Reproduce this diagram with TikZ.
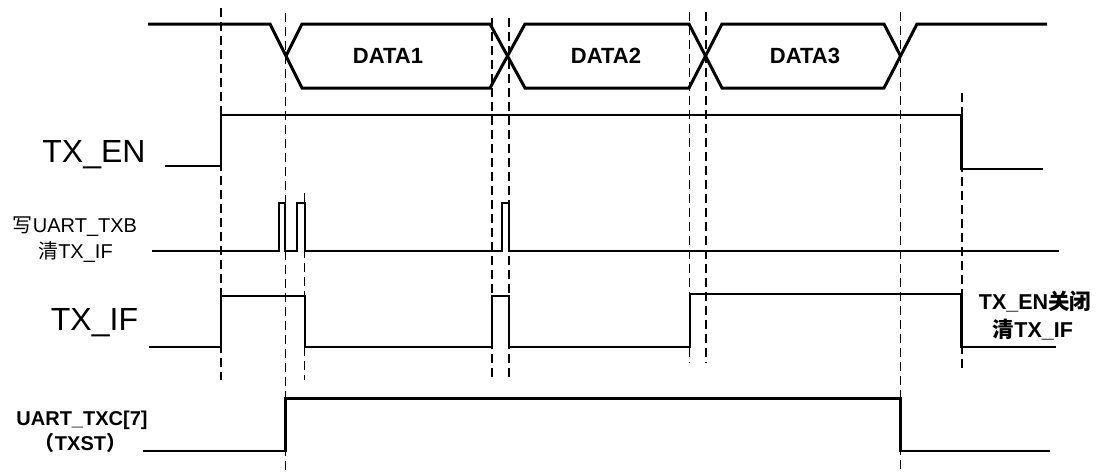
\documentclass[tikz,border=0pt]{standalone}
\usepackage{fontspec}
\setmainfont{Liberation Sans}
\newfontfamily\cjk{Noto Sans CJK SC}
\begin{document}
\begin{tikzpicture}[x=1pt,y=-1pt,
  bus/.style={line width=3pt,line join=miter},
  sig/.style={line width=2.2pt,line join=miter},
  guide/.style={line width=1.4pt,dash pattern=on 9pt off 5pt},
  lbl/.style={inner sep=0pt,anchor=base},
  big/.style={lbl,font=\fontsize{32}{36}\selectfont},
  small/.style={lbl,font=\fontsize{20}{24}\selectfont},
  bsmall/.style={lbl,font=\fontsize{21.5}{24}\selectfont\bfseries},
  bdata/.style={lbl,font=\fontsize{22}{24}\selectfont\bfseries}]
\useasboundingbox (0,0) rectangle (1097,471);
% guide lines
\draw[guide] (221,8) -- (221,380);
\draw[guide] (285.5,13) -- (285.5,471);
\draw[guide] (304.7,193) -- (304.7,380);
\draw[guide] (492,18) -- (492,380);
\draw[guide] (509,18) -- (509,380);
\draw[guide] (689.5,12) -- (689.5,363);
\draw[guide] (706,12) -- (706,363);
\draw[guide] (900.5,12) -- (900.5,471);
\draw[guide] (962,93) -- (962,372);
% data bus
\draw[bus] (148,24) -- (270,24) -- (302,88) -- (490,88) -- (525,24) -- (689,24) -- (722,88) -- (884,88) -- (900.5,56) -- (917,24) -- (1047,24);
\draw[bus] (286,56) -- (302,24) -- (490,24) -- (525,88) -- (689,88) -- (722,24) -- (884,24) -- (900.5,56);
\node[bdata] (d1) at (388,63.3) {DATA1};
\node[bdata] (d2) at (606,63.3) {DATA2};
\node[bdata] (d3) at (805,63.3) {DATA3};
% TX_EN
\draw[sig] (165,166) -- (221,166) -- (221,115) -- (961.5,115) -- (961.5,169) -- (1043,169);
\node[big] (lTXEN) at (94,162.7) {TX\_EN};
% write pulses
\draw[sig] (152,250.7) -- (278.7,250.7) -- (278.7,202.7) -- (285,202.7) -- (285,250.7) -- (297,250.7) -- (297,202.7) -- (304.7,202.7) -- (304.7,250.7) -- (502,250.7) -- (502,202.7) -- (509,202.7) -- (509,250.7) -- (1059,250.7);
\node[small] (lWr1) at (75,232) {{\cjk 写}UART\_TXB};
\node[small] (lWr2) at (75.5,258) {{\cjk 清}TX\_IF};
% TX_IF
\draw[sig] (149,347) -- (221,347) -- (221,296) -- (304.7,296) -- (304.7,347) -- (492,347) -- (492,296) -- (509,296) -- (509,347) -- (690,347) -- (690,294.3) -- (961.5,294.3) -- (961.5,347) -- (1056,347);
\node[big] (lTXIF) at (94.5,330) {TX\_IF};
\node[bsmall] (lOff1) at (1035,309) {TX\_EN{\cjk 关闭}};
\node[bsmall] (lOff2) at (1033,337) {{\cjk 清}TX\_IF};
% UART_TXC[7]
\draw[sig] (143,451) -- (285.5,451) -- (285.5,398.5) -- (900.5,398.5) -- (900.5,451) -- (1050,451);
\node[bsmall,font=\fontsize{20}{24}\selectfont\bfseries] (lTXC1) at (82,425) {UART\_TXC[7]};
\node[bsmall,font=\fontsize{20}{24}\selectfont\bfseries] (lTXC2) at (80.5,450) {{\cjk （}TXST{\cjk ）}};
\end{tikzpicture}
\end{document}
